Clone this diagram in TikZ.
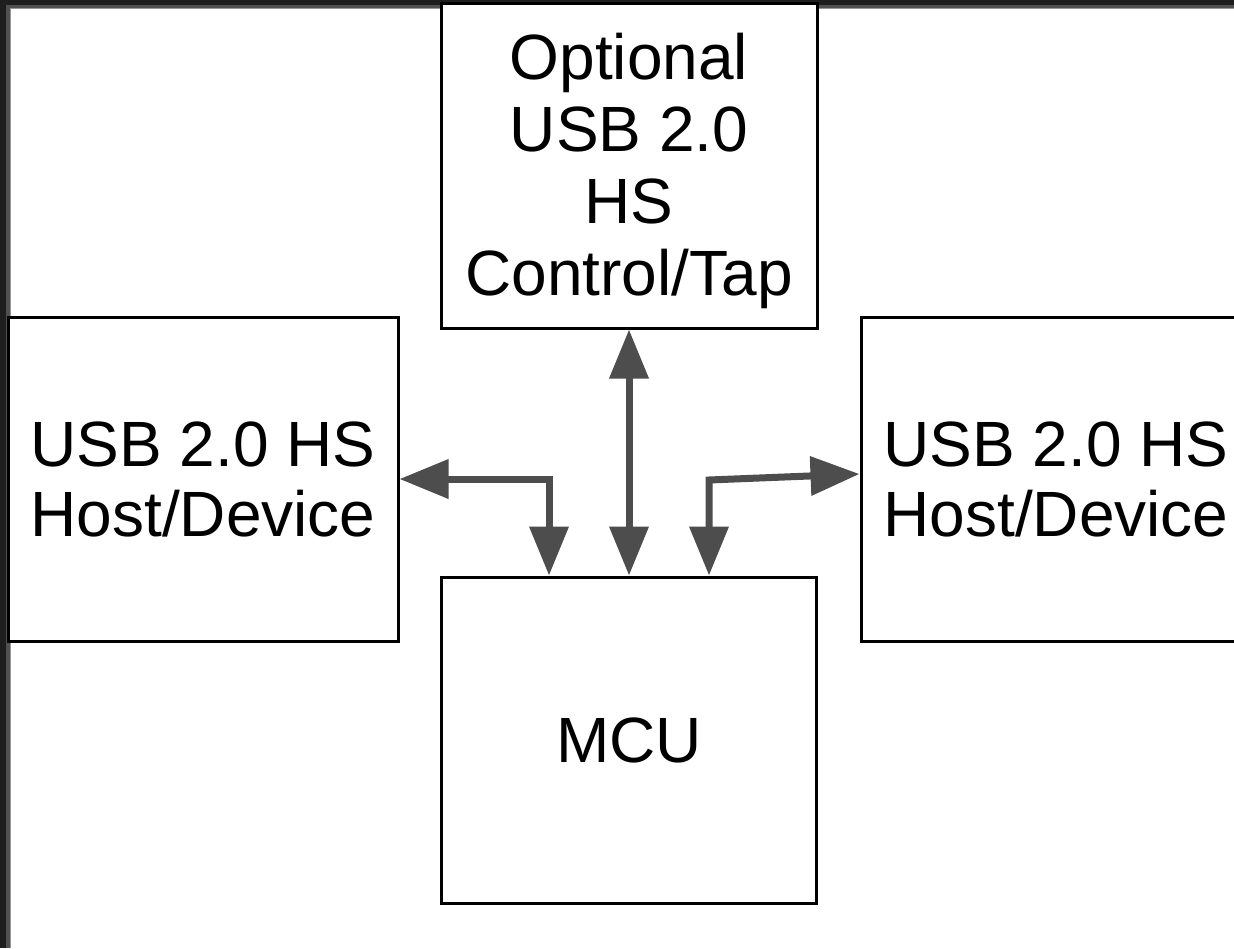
\documentclass[tikz,border=0pt]{standalone}
\usepackage{fontspec}
\setmainfont{Liberation Sans}
\usetikzlibrary{arrows.meta,positioning}
\definecolor{frame}{RGB}{30,30,30}
\definecolor{rim}{RGB}{80,80,80}
\definecolor{edge}{RGB}{150,150,150}
\definecolor{wire}{RGB}{77,77,77}
\tikzset{
  block/.style={draw,line width=3pt,fill=white,inner sep=0pt,align=center,
    font=\fontsize{64}{70}\selectfont},
  link/.style={<->,line width=7pt,draw=wire,line join=miter}
}

\begin{document}
\begin{tikzpicture}[x=1pt,y=-1pt,>={Triangle[length=49pt,width=38pt]},node distance=246pt]
\useasboundingbox (0,0) rectangle (1234,948);
% window frame
\fill[frame] (0,0) rectangle (1234,948);
\fill[rim] (6,4.5) rectangle (1234,948);
\fill[edge] (10,8) rectangle (1234,948);
\fill[white] (11,9) rectangle (1234,948);
% blocks
\node[block,minimum width=375pt,minimum height=326pt] (mcu) at (629,740) {MCU};
\node[block,minimum width=376pt,minimum height=325pt,above=of mcu,
  font=\fontsize{64}{72}\selectfont] (ctrl) {\rule{0pt}{57pt}Optional\\USB 2.0\\HS\\Control/Tap};
\node[block,minimum width=390pt,minimum height=324pt] (hostL) at (203,479) {USB 2.0 HS\\Host/Device};
\node[block,minimum width=390pt,minimum height=324pt] (hostR) at (1056,479) {USB 2.0 HS\\Host/Device};
% connectors
\coordinate (lbend) at (549,479);
\coordinate (rbend) at (709,480);
\draw[link] (hostL.east) -- (lbend) -- (lbend |- mcu.north);
\draw[link] (ctrl.south) -- (mcu.north);
\draw[link] (mcu.north -| rbend) -- (rbend) -- ([yshift=5pt]hostR.west);
\end{tikzpicture}
\end{document}
